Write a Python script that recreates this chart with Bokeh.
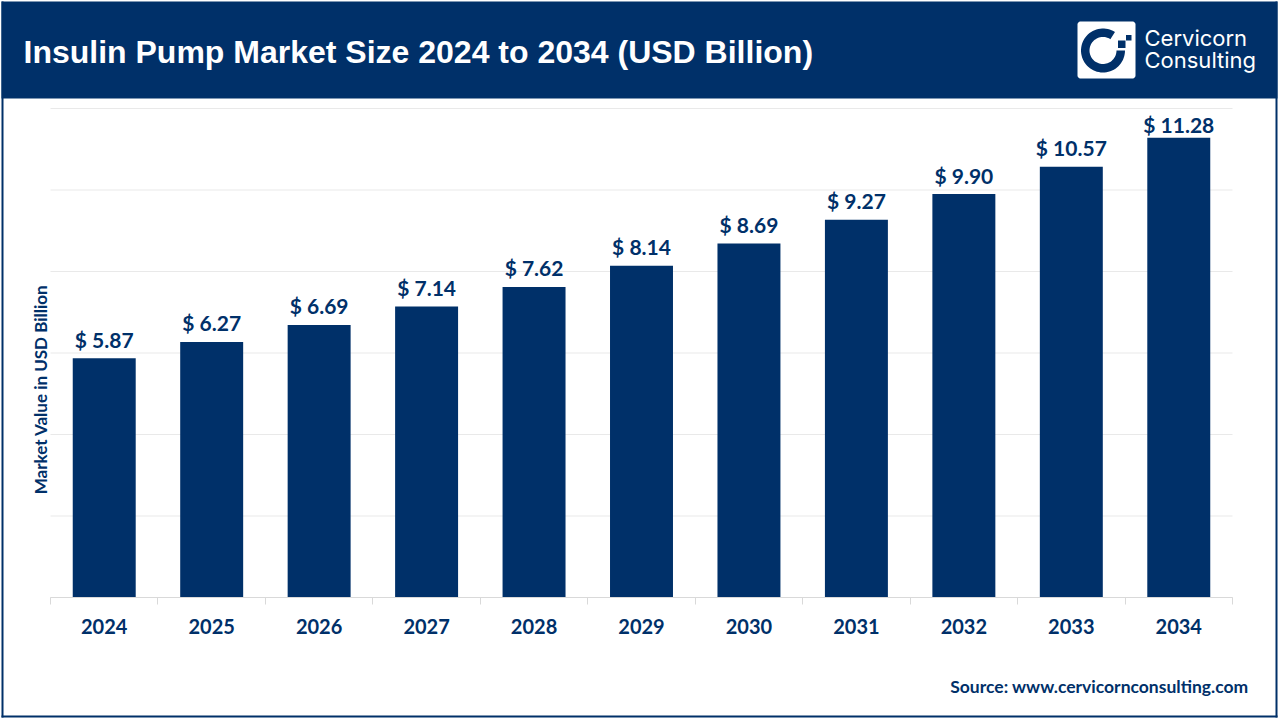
import math
from bokeh.plotting import figure
from bokeh.core.properties import value
from bokeh.models import Range1d, FixedTicker, ColumnDataSource, LinearAxis
from bokeh.embed import file_html
from bokeh.resources import INLINE

years = [2024, 2025, 2026, 2027, 2028, 2029, 2030, 2031, 2032, 2033, 2034]
values = [5.87, 6.27, 6.69, 7.14, 7.62, 8.14, 8.69, 9.27, 9.90, 10.57, 11.28]
value_labels = ["$ %.2f" % v for v in values]
y_ticks = [0, 2, 4, 6, 8, 10, 12]
title_text = "Insulin Pump Market Size 2024 to 2034 (USD Billion)"
y_title = "Market Value in USD Billion"
source_text = "Source: www.cervicornconsulting.com"
brand_lines = ["Cervicorn", "Consulting"]

NAVY = "#003069"
W, H = 1280, 720
# plot area inside the page, in page pixels
L, R, B, T = 50, 1232, 597, 108
x0, x1 = years[0] - 0.5, years[-1] + 0.5
ux = (R - L) / (x1 - x0)
uy = (B - T) / y_ticks[-1]

p = figure(width=W, height=H, output_backend="svg", toolbar_location=None,
           x_axis_location=None, y_axis_location=None,
           x_range=Range1d(x0 - L / ux, x1 + (W - R) / ux),
           y_range=Range1d(-(H - B) / uy, B / uy),
           frame_width=W, frame_height=H, min_border=0,
           background_fill_color="white", border_fill_color="white", outline_line_color=None)
p.extra_x_ranges["px"] = Range1d(0, W)
p.extra_y_ranges["py"] = Range1d(H, 0)
PX = dict(x_range_name="px", y_range_name="py")

p.grid.visible = False
p.segment(x0=[x0] * len(y_ticks), x1=[x1] * len(y_ticks), y0=y_ticks, y1=y_ticks,
          line_color="#e9e9e9", line_width=1, level="underlay")

xa = LinearAxis(fixed_location=0, bounds=(x0, x1),
                ticker=FixedTicker(ticks=years, minor_ticks=[y - 0.5 for y in years] + [x1]))
xa.major_label_overrides = {y: str(y) for y in years}
xa.axis_line_color = "#d9d9d9"
xa.major_tick_line_color = None
xa.minor_tick_line_color = "#d9d9d9"
xa.minor_tick_in = 0
xa.minor_tick_out = 7
xa.major_tick_in = 0
xa.major_tick_out = 0
xa.major_label_standoff = 14
xa.major_label_text_font = "Lato"
xa.major_label_text_font_style = "bold"
xa.major_label_text_font_size = "20px"
xa.major_label_text_color = NAVY
p.add_layout(xa, "below")

dy = [-6.5] * (len(values) - 1) + [-1]
src = ColumnDataSource(dict(x=years, top=values, label=value_labels, dy=dy))
p.vbar(x="x", top="top", bottom=0, width=0.586, source=src, color=NAVY, line_color=None)
p.text(x="x", y="top", text="label", source=src, y_offset="dy", text_align="center", text_baseline="bottom",
       text_font=value("Lato"), text_font_style="bold", text_font_size="21px", text_color=NAVY)


def box(l, t, r, b, color=NAVY):
    p.quad(left=[l], right=[r], top=[t], bottom=[b], fill_color=color, line_color=None, **PX)


def text(x, y, s, font="Lato", size="16px", color=NAVY, style="bold", align="left", angle=0):
    p.text(x=[x], y=[y], text=[s], text_font=value(font), text_font_size=size, text_font_style=style,
           text_color=color, text_align=align, text_baseline="middle", angle=angle, angle_units="deg", **PX)


# header band and page frame
box(1, 1, 1277, 98)
box(1, 1, 3, 717)
box(1275, 1, 1277, 717)
box(1, 715, 1277, 717)

text(23, 51, title_text, font="Liberation Sans", size="32px", color="white")
text(1248, 686, source_text, size="17.5px", align="right")
text(40, 389, y_title, size="17px", align="center", angle=90)

# logo: rounded white tile, open ring, two squares
lx0, ly0, lx1, ly1, rad = 1077, 21, 1135, 78, 3
corners = [(lx1 - rad, ly0 + rad, 90), (lx0 + rad, ly0 + rad, 180), (lx0 + rad, ly1 - rad, 270), (lx1 - rad, ly1 - rad, 360)]
tx, ty = [], []
for ccx, ccy, a0 in corners:
    for i in range(7):
        a = math.radians(a0 - 90 + i * 15)
        tx.append(ccx + rad * math.cos(a))
        ty.append(ccy - rad * math.sin(a))
p.patch(tx, ty, fill_color="white", line_color=None, **PX)
cx, cy, ro, ri = 1102.5, 50, 22, 13.5
angs = [57 + i * (303 / 60) for i in range(61)]
xs = [cx + ro * math.cos(math.radians(a)) for a in angs] + [cx + ri * math.cos(math.radians(a)) for a in reversed(angs)]
ys = [cy - ro * math.sin(math.radians(a)) for a in angs] + [cy - ri * math.sin(math.radians(a)) for a in reversed(angs)]
p.patch(xs, ys, fill_color=NAVY, line_color=None, **PX)
box(1117.5, 40, 1125, 47.5)
box(1125.5, 34.5, 1131, 40)
text(1144, 37, brand_lines[0], font="Inter", size="22px", color="white", style="normal")
text(1144, 59, brand_lines[1], font="Inter", size="22px", color="white", style="normal")

open("out.html", "w").write(file_html(p, INLINE))
